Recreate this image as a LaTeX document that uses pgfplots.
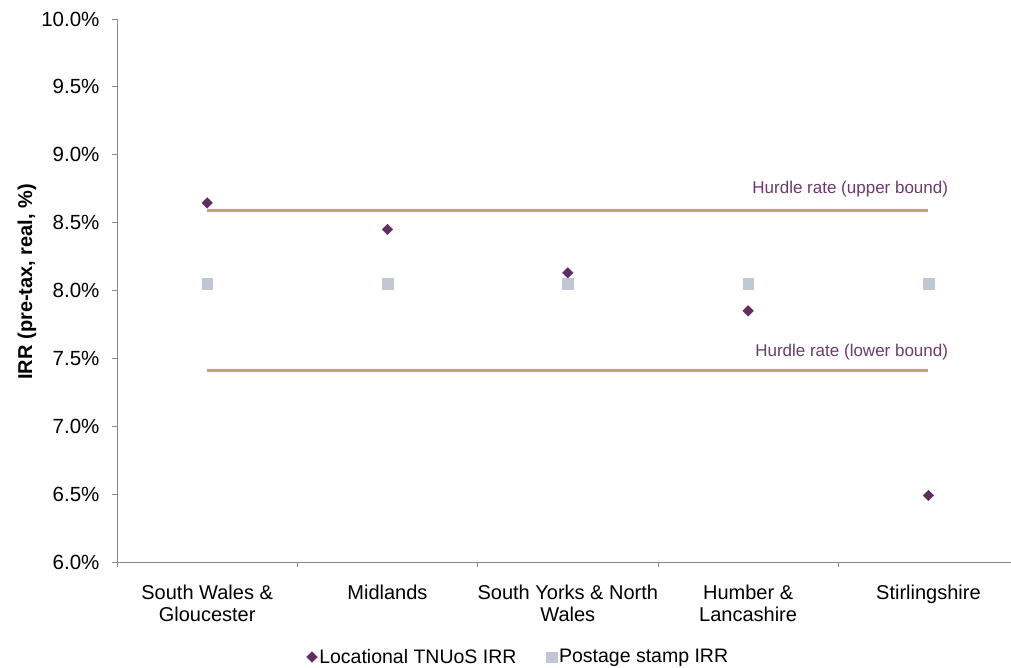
\documentclass[border=0pt]{standalone}
\usepackage{fontspec}
\setmainfont{Liberation Sans}
\usepackage{pgfplots}
\pgfplotsset{compat=1.18}
\definecolor{loc}{HTML}{602D62}
\definecolor{post}{HTML}{C0C6D3}
\definecolor{hurdle}{HTML}{C4A46E}
\definecolor{lbl}{HTML}{6A3B6C}
\definecolor{axisgray}{HTML}{888888}
\begin{document}
\begin{tikzpicture}
\begin{axis}[name=ax, scale only axis, width=894pt, height=543pt,
  xmin=-0.5, xmax=4.458, ymin=6, ymax=10,
  axis x line*=bottom, axis y line*=left,
  axis line style={draw=axisgray, line width=0.8pt},
  tick align=outside, major tick length=5pt,
  every tick/.style={draw=axisgray, line width=0.8pt},
  xtick={-0.5,0.5,1.5,2.5,3.5}, xticklabels={},
  extra x ticks={0,1,2,3,4},
  extra x tick labels={{South Wales \&\\Gloucester},{Midlands},{South Yorks \& North\\Wales},{Humber \&\\Lancashire},{Stirlingshire}},
  extra x tick style={major tick length=0pt, tick label style={align=center, yshift=-19pt, font=\fontsize{20}{22}\selectfont}},
  ytick={6,6.5,7,7.5,8,8.5,9,9.5,10},
  yticklabel={\pgfmathprintnumber[fixed,fixed zerofill,precision=1]{\tick}\%},
  /pgf/number format/assume math mode=true,
  y tick label style={font=\fontsize{20.5}{23}\selectfont, xshift=-9pt},
  ylabel={IRR (pre-tax, real, \%)},
  ylabel style={at={(axis description cs:-0.1007,0.516)}, anchor=center, font=\bfseries\fontsize{20}{22}\selectfont},
  legend style={at={(axis description cs:0.449,-0.175)}, anchor=center, draw=none, legend columns=2,
    font=\fontsize{19.5}{22}\selectfont,
    /tikz/every even column/.append style={column sep=28pt}},
  legend cell align=left,
  clip=false,
]
\addplot[hurdle, line width=2.5pt, forget plot] coordinates {(0,8.59) (4,8.59)};
\addplot[hurdle, line width=2.5pt, forget plot] coordinates {(0,7.41) (4,7.41)};
\addplot[only marks, mark=diamond*, mark size=5.3pt, mark options={fill=loc, draw=loc, xscale=1.333}] coordinates {
 (0,8.645) (1,8.45) (2,8.13) (3,7.85) (4,6.49)};
\addlegendentry{Locational TNUoS IRR}
\addplot[only marks, mark=square*, mark size=5.3pt, mark options={fill=post, draw=post}] coordinates {
 (0,8.05) (1,8.05) (2,8.05) (3,8.05) (4,8.05)};
\addlegendentry{Postage stamp IRR}
\node[anchor=east, text=lbl, font=\fontsize{17}{20}\selectfont, inner sep=0pt] at (axis cs:4.11,8.745) {Hurdle rate (upper bound)};
\node[anchor=east, text=lbl, font=\fontsize{17}{20}\selectfont, inner sep=0pt] at (axis cs:4.11,7.545) {Hurdle rate (lower bound)};
\end{axis}
\pgfresetboundingbox
\path ([xshift=-117pt,yshift=-106pt]ax.south west) rectangle ([yshift=19pt]ax.north east);
\end{tikzpicture}
\end{document}
